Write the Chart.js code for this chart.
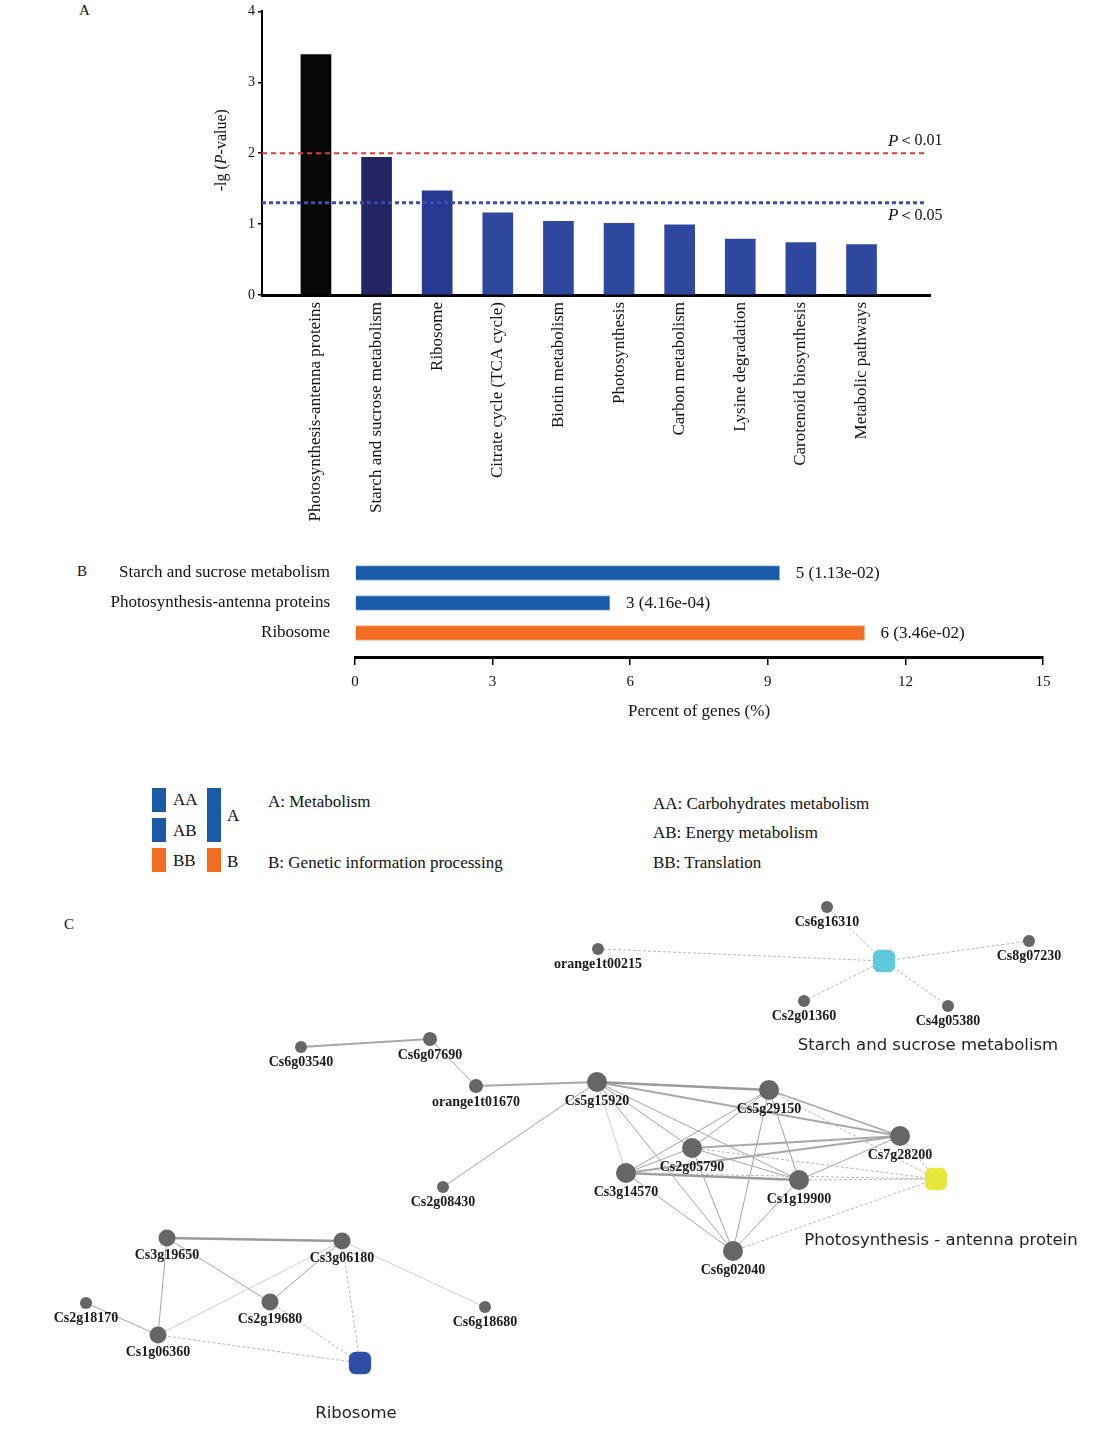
<!DOCTYPE html>
<html>
<head>
<meta charset="utf-8">
<script src="https://cdn.jsdelivr.net/npm/chart.js@4.4.1/dist/chart.umd.min.js"></script>
<style>
  body { margin: 0; background: #fff; }
  #page { position: relative; width: 1116px; height: 1441px; font-family: "Liberation Serif", "Times New Roman", serif; color: #111; }
  .abs { position: absolute; }
  .txt { position: absolute; font-size: 17px; line-height: 20px; white-space: nowrap; transform: translateY(-50%); }
  .sw { position: absolute; }
</style>
</head>
<body>
<div id="page">
  <div class="txt" style="left:79px;top:10px;font-size:15px">A</div>
  <canvas id="chartA" class="abs" style="left:200px;top:0" width="760" height="530"></canvas>

  <div class="txt" style="left:77px;top:571px;font-size:15px">B</div>
  <canvas id="chartB" class="abs" style="left:90px;top:540px" width="1000" height="190"></canvas>

  <!-- legend for panel B -->
  <div class="sw" style="left:152px;top:788px;width:14px;height:24px;background:#1b5aa7"></div>
  <div class="sw" style="left:152px;top:818px;width:14px;height:24px;background:#1b5aa7"></div>
  <div class="sw" style="left:152px;top:848px;width:14px;height:24px;background:#f26c22"></div>
  <div class="sw" style="left:207px;top:788px;width:14px;height:54px;background:#1b5aa7"></div>
  <div class="sw" style="left:207px;top:848px;width:14px;height:24px;background:#f26c22"></div>
  <div class="txt" style="left:173px;top:800px">AA</div>
  <div class="txt" style="left:173px;top:831px">AB</div>
  <div class="txt" style="left:173px;top:861px">BB</div>
  <div class="txt" style="left:227px;top:816px">A</div>
  <div class="txt" style="left:227px;top:862px">B</div>
  <div class="txt" style="left:268px;top:802px">A: Metabolism</div>
  <div class="txt" style="left:268px;top:863px">B: Genetic information processing</div>
  <div class="txt" style="left:653px;top:804px">AA: Carbohydrates metabolism</div>
  <div class="txt" style="left:653px;top:833px">AB: Energy metabolism</div>
  <div class="txt" style="left:653px;top:863px">BB: Translation</div>

  <div class="txt" style="left:64px;top:924px;font-size:15px">C</div>
  <canvas id="chartC" class="abs" style="left:0;top:880px" width="1116" height="561"></canvas>
</div>

<script>
// panel A: KEGG enrichment
const pathways = ['Photosynthesis-antenna proteins', 'Starch and sucrose metabolism', 'Ribosome',
    'Citrate cycle (TCA cycle)', 'Biotin metabolism', 'Photosynthesis', 'Carbon metabolism',
    'Lysine degradation', 'Carotenoid biosynthesis', 'Metabolic pathways'];
const negLogP = [3.39, 1.94, 1.47, 1.16, 1.04, 1.01, 0.99, 0.79, 0.74, 0.71];
const cutoffValues = [2, 1.3];          // -lg(0.01), -lg(0.05)
const cutoffLabels = ['＜0.01', '＜0.05'];

// panel B: percent of genes
const groups = ['Starch and sucrose metabolism', 'Photosynthesis-antenna proteins', 'Ribosome'];
const percentGenes = [9.26, 5.56, 11.11];
const geneCounts = [5, 3, 6];
const groupPValues = ['1.13e-02', '4.16e-04', '3.46e-02'];

// panel C: gene network (layout coordinates)
const nodeNames = ['Cs6g16310', 'orange1t00215', 'Cs8g07230', 'Cs2g01360', 'Cs4g05380',
    'Cs6g03540', 'Cs6g07690', 'orange1t01670', 'Cs5g15920', 'Cs5g29150', 'Cs7g28200',
    'Cs2g05790', 'Cs3g14570', 'Cs1g19900', 'Cs6g02040', 'Cs2g08430',
    'Cs3g19650', 'Cs3g06180', 'Cs2g19680', 'Cs2g18170', 'Cs1g06360', 'Cs6g18680'];
const nodeX = [827, 598, 1029, 804, 948, 301, 430, 476, 597, 769, 900, 692, 626, 799, 733, 443, 167, 342, 270, 86, 158, 485];
const nodeY = [907, 949, 941, 1001, 1006, 1047, 1039, 1086, 1082, 1090, 1136, 1148, 1173, 1180, 1251, 1187, 1238, 1241, 1302, 1303, 1335, 1307];
const nodeDegree = [1, 1, 1, 1, 1, 1, 2, 2, 8, 7, 6, 7, 7, 7, 6, 1, 3, 5, 3, 1, 3, 1];

const pathwayNames = ['Starch and sucrose metabolism', 'Photosynthesis - antenna protein', 'Ribosome'];
const pathwayX = [884, 936, 360];
const pathwayY = [961, 1179, 1363];
const pathwayLabelX = [928, 941, 356];
const pathwayLabelY = [1046, 1241, 1414];

const geneEdges = [
    ['Cs6g03540', 'Cs6g07690', 2], ['Cs6g07690', 'orange1t01670', 1], ['orange1t01670', 'Cs5g15920', 2],
    ['Cs5g15920', 'Cs2g08430', 1], ['Cs5g15920', 'Cs5g29150', 3], ['Cs5g15920', 'Cs7g28200', 2],
    ['Cs5g15920', 'Cs3g14570', 0], ['Cs5g15920', 'Cs1g19900', 1], ['Cs5g15920', 'Cs6g02040', 1],
    ['Cs5g15920', 'Cs2g05790', 1], ['Cs5g29150', 'Cs2g05790', 1], ['Cs5g29150', 'Cs3g14570', 1],
    ['Cs5g29150', 'Cs1g19900', 1], ['Cs5g29150', 'Cs6g02040', 1], ['Cs5g29150', 'Cs7g28200', 2],
    ['Cs2g05790', 'Cs7g28200', 2], ['Cs2g05790', 'Cs1g19900', 1], ['Cs2g05790', 'Cs6g02040', 1],
    ['Cs3g14570', 'Cs7g28200', 2], ['Cs3g14570', 'Cs1g19900', 3], ['Cs3g14570', 'Cs6g02040', 1],
    ['Cs3g14570', 'Cs2g05790', 1], ['Cs1g19900', 'Cs7g28200', 1], ['Cs1g19900', 'Cs6g02040', 1],
    ['Cs3g19650', 'Cs3g06180', 3], ['Cs3g19650', 'Cs2g19680', 1], ['Cs3g19650', 'Cs1g06360', 1],
    ['Cs3g06180', 'Cs2g19680', 1], ['Cs3g06180', 'Cs1g06360', 0], ['Cs3g06180', 'Cs6g18680', 0],
    ['Cs2g18170', 'Cs1g06360', 1]
];
const pathwayLinks = [
    ['Cs6g16310', 0], ['orange1t00215', 0], ['Cs8g07230', 0], ['Cs2g01360', 0], ['Cs4g05380', 0],
    ['Cs5g29150', 1], ['Cs7g28200', 1], ['Cs2g05790', 1], ['Cs3g14570', 1], ['Cs1g19900', 1], ['Cs6g02040', 1],
    ['Cs3g06180', 2], ['Cs2g19680', 2], ['Cs1g06360', 2]
];

const serif = '"Liberation Serif", "Times New Roman", serif';
Chart.defaults.font.family = serif;
Chart.defaults.color = '#111';
Chart.defaults.animation = false;

function drawParts(ctx, parts, x, y) {
    let cx = x;
    parts.forEach(function (p) {
        ctx.font = p[0];
        ctx.fillText(p[1], cx, y);
        cx += ctx.measureText(p[1]).width;
    });
}
function partsWidth(ctx, parts) {
    let w = 0;
    parts.forEach(function (p) { ctx.font = p[0]; w += ctx.measureText(p[1]).width; });
    return w;
}

// ---------- A ----------
const barColorsA = ['#070707', '#232463', '#263a93', '#2d489e', '#2d489e', '#2d489e', '#2d489e', '#2d489e', '#2d489e', '#2d489e'];
const cutoffColors = ['#e23a3a', '#3a4db0'];

const cutoffPlugin = {
    id: 'cutoffs',
    afterDatasetsDraw(chart) {
        const { ctx, chartArea, scales } = chart;
        cutoffValues.forEach(function (c, i) {
            const py = scales.y.getPixelForValue(c);
            ctx.save();
            ctx.strokeStyle = cutoffColors[i];
            ctx.lineWidth = i === 0 ? 2 : 3;
            ctx.setLineDash(i === 0 ? [5, 4] : [4, 3]);
            ctx.beginPath();
            ctx.moveTo(chartArea.left, py);
            ctx.lineTo(chartArea.right - 6, py);
            ctx.stroke();
            ctx.fillStyle = '#111';
            ctx.textBaseline = 'middle';
            ctx.textAlign = 'left';
            const ty = i === 0 ? py - 12 : py + 13;
            drawParts(ctx, [['italic 17px ' + serif, 'P'], ['16px ' + serif, cutoffLabels[i]]], chartArea.right - 42, ty);
            ctx.restore();
        });
    }
};

const yTitlePlugin = {
    id: 'yTitle',
    afterDraw(chart) {
        const { ctx, chartArea } = chart;
        const parts = [['16px ' + serif, '-lg ('], ['italic 16px ' + serif, 'P'], ['16px ' + serif, '-value)']];
        ctx.save();
        ctx.translate(22, (chartArea.top + chartArea.bottom) / 2 - 3);
        ctx.rotate(-Math.PI / 2);
        ctx.fillStyle = '#111';
        ctx.textBaseline = 'middle';
        ctx.textAlign = 'left';
        drawParts(ctx, parts, -partsWidth(ctx, parts) / 2, 0);
        ctx.restore();
    }
};

new Chart(document.getElementById('chartA'), {
    type: 'bar',
    data: {
        datasets: [{
            data: negLogP.map((v, i) => ({ x: i, y: v })),
            backgroundColor: barColorsA,
            barThickness: 30
        }]
    },
    options: {
        responsive: false,
        layout: { padding: { top: 11, right: 30, left: 0, bottom: 0 } },
        plugins: { legend: { display: false }, tooltip: { enabled: false } },
        scales: {
            x: {
                type: 'linear',
                offset: false,
                min: -0.89,
                max: 10.13,
                grid: { display: false, drawTicks: false },
                border: { color: '#000', width: 3 },
                afterBuildTicks: s => { s.ticks = pathways.map((_, i) => ({ value: i })); },
                afterFit: s => { s.height = 235; },
                ticks: {
                    autoSkip: false, minRotation: 90, maxRotation: 90, padding: 7,
                    font: { size: 17 },
                    callback: v => pathways[v]
                }
            },
            y: {
                min: 0,
                max: 4,
                ticks: { stepSize: 1, font: { size: 14 }, padding: 3 },
                grid: { drawOnChartArea: false, tickLength: 4, color: '#000', lineWidth: 1.5 },
                border: { color: '#000', width: 2 },
                afterFit: s => { s.width = 62; }
            }
        }
    },
    plugins: [cutoffPlugin, yTitlePlugin]
});

// ---------- B ----------
const barColorsB = ['#1b5aa7', '#1b5aa7', '#f26c22'];
const barEdgesB = ['#8dbbe6', '#8dbbe6', '#f7a57a'];

const valueLabelPlugin = {
    id: 'valueLabels',
    afterDatasetsDraw(chart) {
        const { ctx } = chart;
        const meta = chart.getDatasetMeta(0);
        ctx.save();
        ctx.fillStyle = '#111';
        ctx.font = '17px ' + serif;
        ctx.textBaseline = 'middle';
        ctx.textAlign = 'left';
        meta.data.forEach(function (bar, i) {
            ctx.fillText(geneCounts[i] + ' (' + groupPValues[i] + ')', bar.x + 16, bar.y + 1);
        });
        ctx.restore();
    }
};

new Chart(document.getElementById('chartB'), {
    type: 'bar',
    data: {
        datasets: [{
            data: percentGenes.map((v, i) => ({ x: v, y: i })),
            backgroundColor: barColorsB,
            borderColor: barEdgesB,
            borderWidth: 1,
            barThickness: 15
        }]
    },
    options: {
        indexAxis: 'y',
        responsive: false,
        layout: { padding: { top: 18, right: 47, left: 0, bottom: 0 } },
        plugins: { legend: { display: false }, tooltip: { enabled: false } },
        scales: {
            x: {
                min: 0,
                max: 15,
                ticks: { stepSize: 3, font: { size: 15 }, padding: 8 },
                grid: { drawOnChartArea: false, tickLength: 8, color: '#000', lineWidth: 1.5 },
                border: { color: '#000', width: 3 },
                title: { display: true, text: 'Percent of genes (%)', font: { size: 17 }, padding: { top: 0, bottom: 8 } },
                afterFit: s => { s.height = 73; }
            },
            y: {
                type: 'linear',
                offset: false,
                reverse: true,
                min: -0.5,
                max: 2.8,
                afterBuildTicks: s => { s.ticks = groups.map((_, i) => ({ value: i })); },
                // the gap to the bars comes from an invisible tick length, so that
                // ticks.padding does not push the plot area down
                ticks: { font: { size: 17 }, padding: 0, callback: v => groups[v] },
                grid: { display: false, drawTicks: true, tickLength: 25 },
                border: { display: false },
                afterFit: s => { s.width = 265; }
            }
        }
    },
    plugins: [valueLabelPlugin]
});

// ---------- C ----------
const pathwayColors = ['#5ec8df', '#e6e63c', '#2f4ea6'];
const edgeColors = ['#cfcfcf', '#a4a4a4', '#a8a8a8', '#9a9a9a'];
const edgeWidths = [1, 1, 1.8, 2.6];

function nodePoint(name) {
    const k = nodeNames.indexOf(name);
    return { x: nodeX[k], y: nodeY[k] };
}

const edgeSets = geneEdges.map(function (e) {
    return {
        data: [nodePoint(e[0]), nodePoint(e[1])],
        showLine: true,
        borderColor: edgeColors[e[2]],
        borderWidth: edgeWidths[e[2]],
        pointRadius: 0,
        order: 3
    };
});
const linkSets = pathwayLinks.map(function (l) {
    return {
        data: [nodePoint(l[0]), { x: pathwayX[l[1]], y: pathwayY[l[1]] }],
        showLine: true,
        borderColor: '#b8b8b8',
        borderWidth: 1,
        borderDash: [3, 2],
        pointRadius: 0,
        order: 2
    };
});

const nodeLabelPlugin = {
    id: 'nodeLabels',
    afterDatasetsDraw(chart) {
        const { ctx } = chart;
        const genes = chart.getDatasetMeta(chart.data.datasets.length - 2);
        ctx.save();
        ctx.fillStyle = '#1a1a1a';
        ctx.textAlign = 'center';
        ctx.textBaseline = 'middle';
        ctx.font = 'bold 14px ' + serif;
        genes.data.forEach(function (pt, i) {
            const r = pt.options.radius;
            ctx.fillText(nodeNames[i], pt.x, pt.y + r + 9);
        });
        ctx.font = '16.5px "DejaVu Sans", sans-serif';
        ctx.fillStyle = '#222';
        pathwayNames.forEach(function (n, i) {
            ctx.fillText(n, chart.scales.x.getPixelForValue(pathwayLabelX[i]), chart.scales.y.getPixelForValue(pathwayLabelY[i]));
        });
        ctx.restore();
    }
};

new Chart(document.getElementById('chartC'), {
    type: 'scatter',
    data: {
        datasets: edgeSets.concat(linkSets).concat([
            {
                data: nodeNames.map((n, i) => ({ x: nodeX[i], y: nodeY[i] })),
                pointRadius: nodeDegree.map(d => d >= 6 ? 10 : d >= 3 ? 8.5 : d === 2 ? 7 : 6),
                backgroundColor: '#666666',
                borderWidth: 0,
                order: 1
            },
            {
                data: pathwayNames.map((n, i) => ({ x: pathwayX[i], y: pathwayY[i] })),
                pointStyle: 'rectRounded',
                pointRadius: 13,
                backgroundColor: pathwayColors,
                borderWidth: 0,
                order: 0
            }
        ])
    },
    options: {
        responsive: false,
        layout: { padding: 0, autoPadding: false },
        plugins: { legend: { display: false }, tooltip: { enabled: false } },
        scales: {
            x: { display: false, min: 0, max: 1116 },
            y: { display: false, min: 880, max: 1441, reverse: true }
        }
    },
    plugins: [nodeLabelPlugin]
});
</script>
</body>
</html>
